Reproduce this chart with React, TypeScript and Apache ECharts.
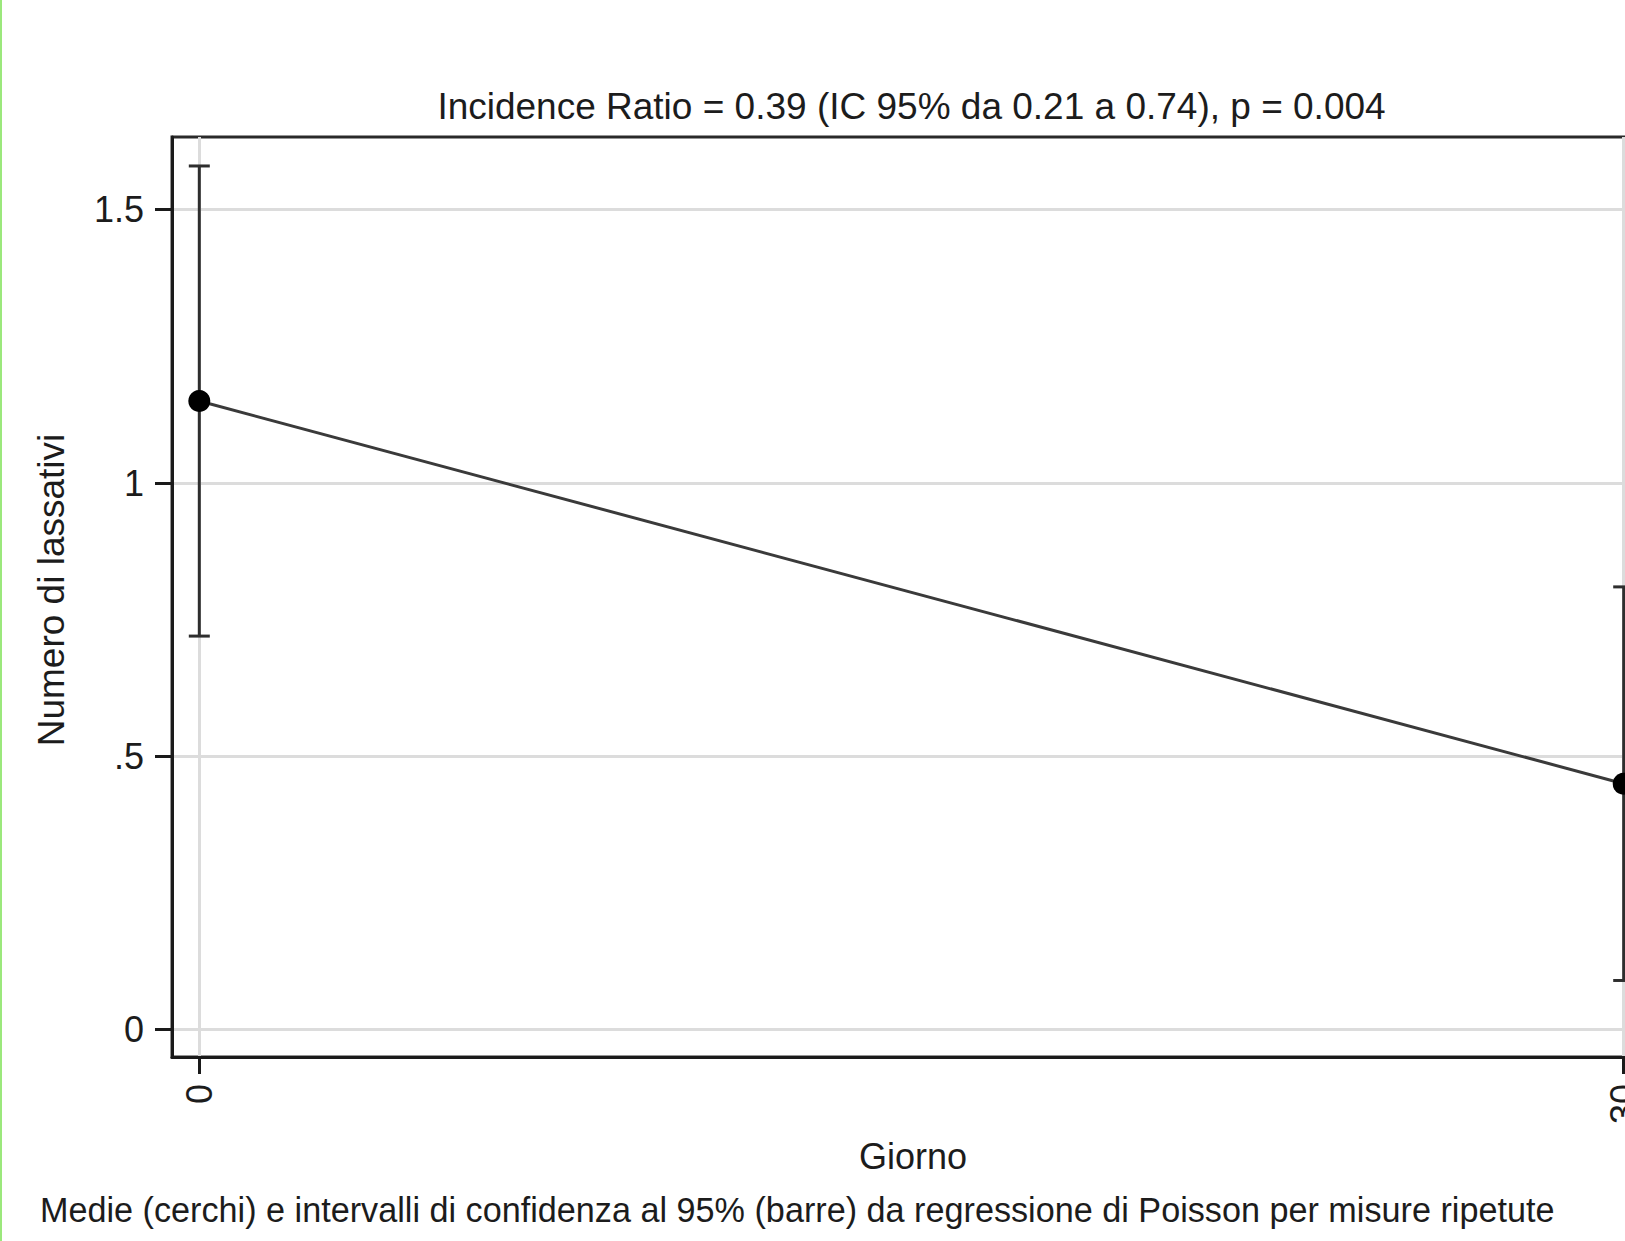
import React, { useEffect, useRef } from "react";
import * as echarts from "echarts";

const days = [0, 30];
const means = [1.15, 0.45];
const ciLow = [0.72, 0.09];
const ciHigh = [1.58, 0.81];
const yTicks = [0, 0.5, 1, 1.5];
const xTicks = [0, 30];

const titleText = "Incidence Ratio = 0.39 (IC 95% da 0.21 a 0.74), p = 0.004";
const yName = "Numero di lassativi";
const xName = "Giorno";
const noteText =
  "Medie (cerchi) e intervalli di confidenza al 95% (barre) da regressione di Poisson per misure ripetute";

const FONT = "'Liberation Sans', Arial, Helvetica, sans-serif";
const TXT = "#1c1c1c";

export default function App() {
  const ref = useRef<HTMLDivElement>(null);
  useEffect(() => {
    if (!ref.current) return;
    const chart = echarts.init(ref.current, null, { renderer: "svg" });
    const errData = days.map((d, i) => [d, ciLow[i], ciHigh[i]]);
    const lineData = days.map((d, i) => [d, means[i]]);
    chart.setOption({
      animation: false,
      backgroundColor: "#ffffff",
      textStyle: { fontFamily: FONT },
      grid: {
        left: 172,
        top: 137,
        width: 1479,
        height: 920,
        show: true,
        borderColor: "#2a2a2a",
        borderWidth: 3,
        backgroundColor: "transparent",
      },
      xAxis: {
        type: "value",
        min: -0.575,
        max: 30.575,
        axisLine: { show: true, onZero: false, lineStyle: { color: "#1a1a1a", width: 3 } },
        axisTick: {
          show: true,
          customValues: xTicks,
          length: 17,
          lineStyle: { color: "#1a1a1a", width: 3 },
        },
        axisLabel: {
          customValues: xTicks,
          rotate: 90,
          margin: 27,
          fontSize: 36,
          color: TXT,
          fontFamily: FONT,
        },
        splitLine: { show: true, lineStyle: { color: "#dcdcdc", width: 3 } },
      },
      yAxis: {
        type: "value",
        min: -0.05,
        max: 1.633,
        axisLine: { show: true, onZero: false, lineStyle: { color: "#1a1a1a", width: 3 } },
        axisTick: {
          show: true,
          customValues: yTicks,
          length: 17,
          lineStyle: { color: "#1a1a1a", width: 3 },
        },
        axisLabel: {
          customValues: yTicks,
          margin: 28,
          fontSize: 36,
          color: TXT,
          fontFamily: FONT,
          formatter: (v: number) => {
            const s = String(v);
            return s.startsWith("0.") ? s.slice(1) : s;
          },
        },
        splitLine: { show: true, lineStyle: { color: "#dcdcdc", width: 3 } },
      },
      graphic: [
        {
          type: "text",
          x: 911.5,
          y: 106,
          style: {
            text: titleText,
            fontSize: 37,
            fontFamily: FONT,
            fill: TXT,
            textAlign: "center",
            textVerticalAlign: "middle",
          },
        },
        {
          type: "text",
          x: 51,
          y: 590,
          rotation: Math.PI / 2,
          style: {
            text: yName,
            fontSize: 37,
            fontFamily: FONT,
            fill: TXT,
            textAlign: "center",
            textVerticalAlign: "middle",
          },
        },
        {
          type: "text",
          x: 913,
          y: 1156,
          style: {
            text: xName,
            fontSize: 36,
            fontFamily: FONT,
            fill: TXT,
            textAlign: "center",
            textVerticalAlign: "middle",
          },
        },
        {
          type: "text",
          x: 40,
          y: 1210,
          style: {
            text: noteText,
            fontSize: 34.2,
            fontFamily: FONT,
            fill: TXT,
            textAlign: "left",
            textVerticalAlign: "middle",
          },
        },
      ],
      series: [
        {
          type: "custom",
          z: 2,
          data: errData,
          renderItem: (params: any, api: any) => {
            const x = api.value(0);
            const lo = api.coord([x, api.value(1)]);
            const hi = api.coord([x, api.value(2)]);
            const hw = 10.5;
            const st = { stroke: "#2e2e2e", lineWidth: 3 };
            return {
              type: "group",
              children: [
                { type: "line", shape: { x1: lo[0], y1: lo[1], x2: hi[0], y2: hi[1] }, style: st },
                { type: "line", shape: { x1: lo[0] - hw, y1: lo[1], x2: lo[0] + hw, y2: lo[1] }, style: st },
                { type: "line", shape: { x1: hi[0] - hw, y1: hi[1], x2: hi[0] + hw, y2: hi[1] }, style: st },
              ],
            };
          },
        },
        {
          type: "line",
          z: 3,
          data: lineData,
          symbol: "circle",
          symbolSize: 22,
          showAllSymbol: true,
          clip: false,
          lineStyle: { color: "#3a3a3a", width: 3 },
          itemStyle: { color: "#000000", borderWidth: 0 },
        },
      ],
    });
    return () => chart.dispose();
  }, []);

  return (
    <div
      style={{
        position: "fixed",
        left: 0,
        top: 0,
        width: 1625,
        height: 1241,
        overflow: "hidden",
        background: "#ffffff",
      }}
    >
      <div ref={ref} style={{ position: "absolute", left: 0, top: 0, width: 1700, height: 1241 }} />
      <div
        style={{
          position: "absolute",
          left: 0,
          top: 0,
          width: 2,
          height: 1241,
          background: "#9be87c",
        }}
      />
    </div>
  );
}
